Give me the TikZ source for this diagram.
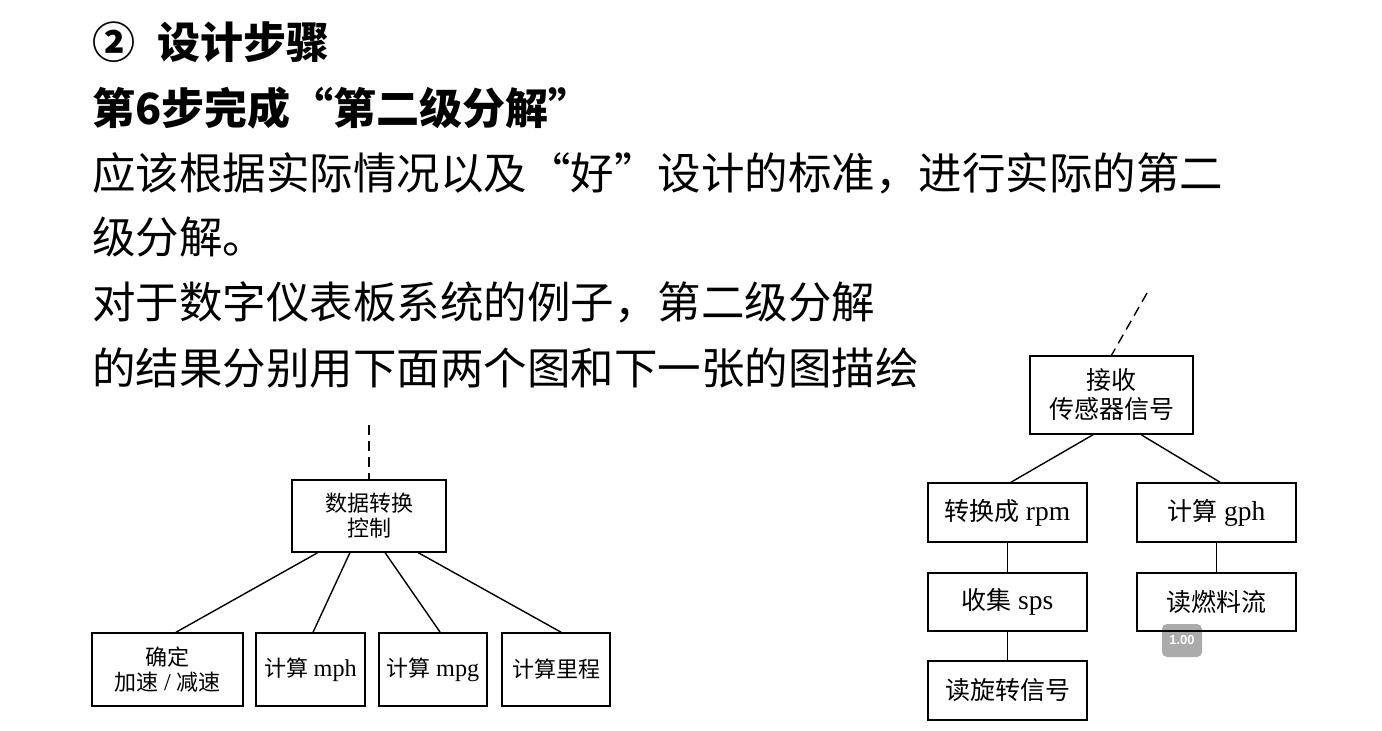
\documentclass[tikz,border=0pt]{standalone}
\usepackage{fontspec}
\setmainfont{Liberation Serif}
\newfontfamily\cjk{Noto Sans CJK SC}
\newfontfamily\ltn{Liberation Serif}[Scale=1.1]
\newfontfamily\badgefont{Liberation Sans}
\usetikzlibrary{calc}
\newcommand\zh[1]{{\cjk #1}}
\tikzset{
  boxnode/.style={draw, line width=0.8pt, inner sep=0pt, align=center},
  lfont/.style={font=\fontsize{11pt}{12.5pt}\selectfont},
  rfont/.style={font=\fontsize{12.5pt}{14.5pt}\selectfont},
  conn/.style={line width=0.7pt},
  dashconn/.style={line width=0.7pt, dash pattern=on 5pt off 3pt},
  bodytext/.style={anchor=base west, inner sep=0pt, font=\cjk\fontsize{21.75pt}{24pt}\selectfont},
  headtext/.style={anchor=base west, inner sep=0pt, font=\cjk\bfseries\fontsize{21.5pt}{24pt}\selectfont},
}
\begin{document}
\begin{tikzpicture}[x=0.5pt,y=-0.5pt]
\useasboundingbox (0,0) rectangle (1382,730);
\fill[white] (0,0) rectangle (1382,730);

% body text
\node[headtext] (t1) at (92,58) {②\hspace{11pt}设计步骤};
\node[headtext] (t2) at (92,124) {第6步完成“第二级分解”};
\node[bodytext] (t3) at (92,189) {应该根据实际情况以及“好”设计的标准，进行实际的第二};
\node[bodytext] (t4) at (92,253) {级分解。};
\node[bodytext] (t5) at (92,318) {对于数字仪表板系统的例子，第二级分解};
\node[bodytext] (t6) at (92,384) {的结果分别用下面两个图和下一张的图描绘};

% left diagram
\node[boxnode, lfont, minimum width=77pt, minimum height=36pt] (L0) at (369,516) {\zh{数据转换}\\\zh{控制}};
\node[boxnode, lfont, minimum width=75.5pt, minimum height=36.5pt] (L1) at (167.5,669.5) {\zh{确定}\\\zh{加速} {\ltn /} \zh{减速}};
\node[boxnode, lfont, minimum width=54.5pt, minimum height=36.5pt] (L2) at (310.5,669.5) {\zh{计算} {\ltn mph}};
\node[boxnode, lfont, minimum width=54pt, minimum height=36.5pt] (L3) at (433,669.5) {\zh{计算} {\ltn mpg}};
\node[boxnode, lfont, minimum width=54pt, minimum height=36.5pt] (L4) at (556,669.5) {\zh{计算里程}};
\coordinate (Ltop) at (369,425);
\draw[dashconn] (Ltop) -- (L0.north);
\draw[conn] ($(L0.south west)!0.169!(L0.south east)$) -- ($(L1.north west)!0.556!(L1.north east)$);
\draw[conn] ($(L0.south west)!0.377!(L0.south east)$) -- ($(L2.north west)!0.523!(L2.north east)$);
\draw[conn] ($(L0.south west)!0.604!(L0.south east)$) -- ($(L3.north west)!0.565!(L3.north east)$);
\draw[conn] ($(L0.south west)!0.818!(L0.south east)$) -- ($(L4.north west)!0.546!(L4.north east)$);

% playback badge (under the box line)
\node[fill=black!33, rounded corners=2.5pt, minimum width=20pt, minimum height=16.5pt, inner sep=0pt,
      text=white, font=\badgefont\bfseries\fontsize{6.5pt}{7pt}\selectfont] (badge) at (1182,640.5) {1.00};

% right diagram
\node[boxnode, rfont, minimum width=81.5pt, minimum height=39pt] (R0) at (1111.5,395) {\zh{接收}\\\zh{传感器信号}};
\node[boxnode, rfont, minimum width=79.5pt, minimum height=29.5pt] (R1) at (1007.5,512.5) {\zh{转换成} {\ltn rpm}};
\node[boxnode, rfont, minimum width=79.5pt, minimum height=29.5pt] (R2) at (1216.5,512.5) {\zh{计算} {\ltn gph}};
\node[boxnode, rfont, minimum width=79.5pt, minimum height=29pt] (R3) at (1007.5,602) {\zh{收集} {\ltn sps}};
\node[boxnode, rfont, minimum width=79.5pt, minimum height=29pt] (R4) at (1216.5,602) {\zh{读燃料流}};
\node[boxnode, rfont, minimum width=79.5pt, minimum height=29.5pt] (R5) at (1007.5,690.5) {\zh{读旋转信号}};
\coordinate (Rtop) at (1147,293);
\draw[dashconn] (Rtop) -- (R0.north);
\draw[conn] ($(R0.south west)!0.387!(R0.south east)$) -- ($(R1.north west)!0.522!(R1.north east)$);
\draw[conn] ($(R0.south west)!0.681!(R0.south east)$) -- ($(R2.north west)!0.522!(R2.north east)$);
\draw[conn] (R1.south) -- (R3.north);
\draw[conn] (R3.south) -- (R5.north);
\draw[conn] (R2.south) -- (R4.north);
\end{tikzpicture}
\end{document}
